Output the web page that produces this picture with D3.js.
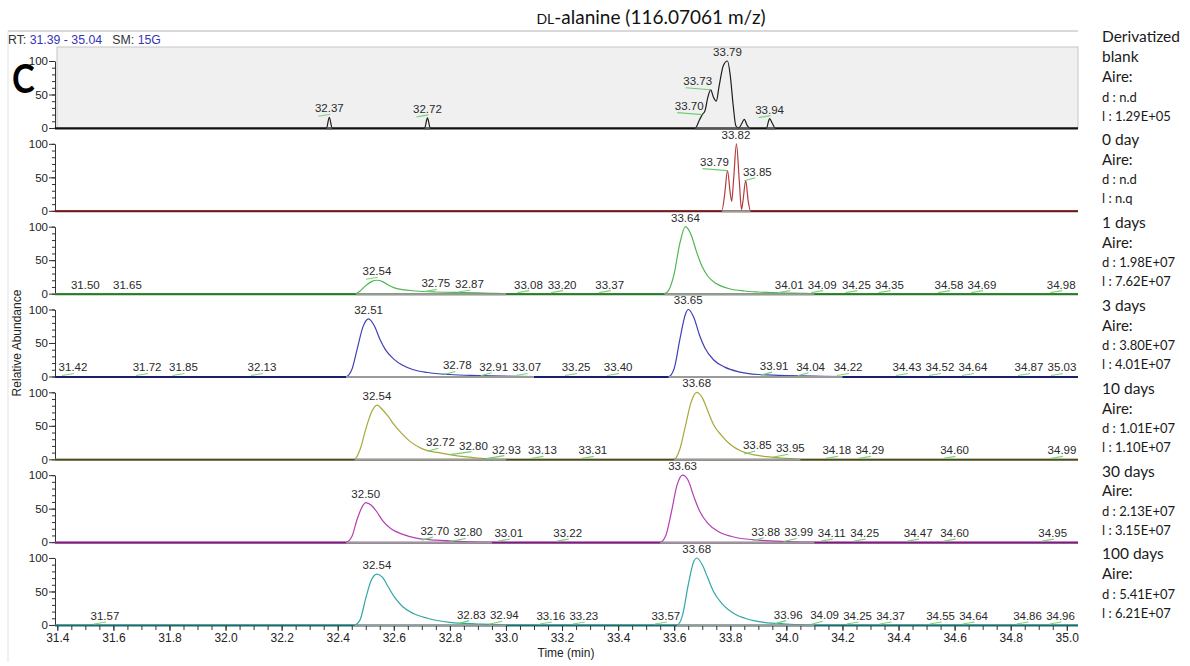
<!DOCTYPE html>
<html><head><meta charset="utf-8">
<script src="https://cdn.jsdelivr.net/npm/d3@7/dist/d3.min.js"></script>
<style>body{margin:0;background:#fff}svg{display:block}</style>
</head><body>
<svg id="c" width="1190" height="666"></svg>
<script>
// ---------- DATA ----------
const sampleNames = ["Derivatized blank","0 day","1 days","3 days","10 days","30 days","100 days"];
const areaD = ["n.d","n.d","1.98E+07","3.80E+07","1.01E+07","2.13E+07","5.41E+07"];
const areaL = ["1.29E+05","n.q","7.62E+07","4.01E+07","1.10E+07","3.15E+07","6.21E+07"];
const xTickLabels = [31.4,31.6,31.8,32.0,32.2,32.4,32.6,32.8,33.0,33.2,33.4,33.6,33.8,34.0,34.2,34.4,34.6,34.8,35.0];
const yTickLabels = [0,50,100];

// traces: [retention time (min), relative abundance (%)]
const traceBlank = [[31.39,0],[32.36,0],[32.37,16],[32.38,0],[32.71,0],[32.72,15],[32.73,0],
  [33.675,0],[33.69,12],[33.70,20],[33.71,26],[33.72,46],[33.73,57],[33.74,46],[33.75,40],
  [33.76,62],[33.775,93],[33.79,100],[33.80,78],[33.81,35],[33.82,3],[33.83,0],[33.84,6],
  [33.85,13],[33.86,4],[33.87,0],[33.93,0],[33.935,8],[33.94,14],[33.95,7],[33.96,0],[35.04,0]];
const trace0 = [[31.39,0],[33.77,0],[33.78,25],[33.79,60],[33.80,26],[33.805,14],[33.812,48],
  [33.822,100],[33.832,45],[33.84,2],[33.845,14],[33.855,45],[33.864,14],[33.872,0],[35.04,0]];
const trace1 = [[31.39,0],[32.465,0],[32.48,4],[32.50,12],[32.52,18],[32.54,20],[32.56,18],
  [32.58,13],[32.60,9],[32.63,6],[32.68,4],[32.75,2.5],[32.85,1.5],[32.95,0.5],[33.0,0],
  [33.565,0],[33.58,5],[33.60,30],[33.62,75],[33.64,100],[33.66,88],[33.68,62],[33.70,40],
  [33.72,26],[33.75,15],[33.80,7],[33.85,4],[33.90,2.5],[33.95,1.5],[34.0,1],[34.05,0.5],[34.1,0],[35.04,0]];
const trace3 = [[31.39,0],[32.43,0],[32.45,10],[32.47,42],[32.49,74],[32.51,86],[32.53,76],
  [32.55,56],[32.57,40],[32.60,26],[32.63,17],[32.67,10],[32.72,6],[32.80,3],[32.90,1.5],
  [33.0,0.5],[33.1,0],[33.58,0],[33.60,12],[33.62,55],[33.64,93],[33.65,100],[33.67,88],
  [33.69,62],[33.71,42],[33.74,25],[33.78,14],[33.83,7],[33.90,3],[34.0,1.5],[34.1,0.5],[34.2,0],[35.04,0]];
const trace10 = [[31.39,0],[32.46,0],[32.48,15],[32.50,45],[32.52,70],[32.54,81],[32.56,74],
  [32.58,64],[32.60,52],[32.63,38],[32.66,26],[32.70,16],[32.72,13],[32.76,10],[32.80,7],
  [32.85,4],[32.90,2],[32.95,0.5],[33.0,0],[33.60,0],[33.62,15],[33.64,50],[33.66,85],
  [33.68,100],[33.70,92],[33.72,72],[33.74,52],[33.77,35],[33.80,22],[33.84,12],[33.88,7],
  [33.93,4],[34.0,1.5],[34.05,0],[35.04,0]];
const trace30 = [[31.39,0],[32.43,0],[32.45,8],[32.47,35],[32.49,55],[32.50,59],[32.52,55],
  [32.54,45],[32.56,32],[32.59,20],[32.63,12],[32.68,6],[32.75,3],[32.85,1],[32.95,0],
  [33.55,0],[33.57,10],[33.59,45],[33.61,85],[33.63,100],[33.65,92],[33.67,68],[33.69,47],
  [33.72,28],[33.76,15],[33.82,7],[33.90,3],[34.0,1],[34.1,0],[35.04,0]];
const trace100 = [[31.39,0],[32.46,0],[32.48,8],[32.50,40],[32.52,67],[32.54,76],[32.56,71],
  [32.58,57],[32.60,43],[32.63,28],[32.67,17],[32.72,10],[32.80,4],[32.90,1.5],[33.0,0],
  [33.61,0],[33.63,15],[33.65,60],[33.67,95],[33.68,100],[33.70,90],[33.72,70],[33.74,50],
  [33.77,32],[33.81,18],[33.86,9],[33.92,4],[34.0,1.5],[34.1,0],[35.04,0]];

// peak labels: [retention time, abundance at the label]
const peaksBlank = [[32.37,16],[32.72,15],[33.70,20],[33.73,57],[33.79,100],[33.94,14]];
const peaks0 = [[33.79,60],[33.82,100],[33.85,45]];
const peaks1 = [[31.50,0],[31.65,0],[32.54,20],[32.75,2],[32.87,1],[33.08,0],[33.20,0],[33.37,0],
  [33.64,100],[34.01,0],[34.09,0],[34.25,0],[34.35,0],[34.58,0],[34.69,0],[34.98,0]];
const peaks3 = [[31.42,0],[31.72,0],[31.85,0],[32.13,0],[32.51,86],[32.78,3],[32.91,1],[33.07,0],
  [33.25,0],[33.40,0],[33.65,100],[33.91,2],[34.04,1],[34.22,0],[34.43,0],[34.52,0],[34.64,0],
  [34.87,0],[35.03,0]];
const peaks10 = [[32.54,81],[32.72,12],[32.80,7],[32.93,1],[33.13,0],[33.31,0],[33.68,100],
  [33.85,8],[33.95,3],[34.18,0],[34.29,0],[34.60,0],[34.99,0]];
const peaks30 = [[32.50,59],[32.70,3],[32.80,1],[33.01,0],[33.22,0],[33.63,100],[33.88,2],
  [33.99,1],[34.11,0],[34.25,0],[34.47,0],[34.60,0],[34.95,0]];
const peaks100 = [[31.57,0],[32.54,76],[32.83,2],[32.94,1],[33.16,0],[33.23,0],[33.57,0],
  [33.68,100],[33.96,2],[34.09,1],[34.25,0],[34.37,0],[34.55,0],[34.64,0],[34.86,0],[34.96,0]];

const traces = [traceBlank, trace0, trace1, trace3, trace10, trace30, trace100];
const peakSets = [peaksBlank, peaks0, peaks1, peaks3, peaks10, peaks30, peaks100];
const lineColors = ["#1e1e1e","#b23c3c","#52b552","#4040b8","#a8a83a","#b33fb3","#33a6a6"];
const baseColors = ["#111111","#6e1c1c","#2b7a2b","#1e1e6e","#4d4d22","#7a1f7a","#1f6a6a"];

// ---------- DRAW ----------
const svg = d3.select("#c");
const NUM = "'Liberation Sans', Arial, sans-serif";
const CAL = "Lato, 'Open Sans', sans-serif";
const x = d3.scaleLinear().domain([31.39, 35.04]).range([54.5, 1078]);
const firstZero = 128, panelStep = 82.83, panelH = 67, axisX = 55;

// frame lines
svg.append("line").attr("x1",8).attr("x2",1078).attr("y1",31).attr("y2",31).attr("stroke","#b4b4b4");
svg.append("line").attr("x1",8).attr("x2",8).attr("y1",31).attr("y2",662).attr("stroke","#e2e2e2");

// title
const t = svg.append("text").attr("x",651).attr("y",24).attr("text-anchor","middle")
  .attr("font-family",CAL).attr("font-size",19).attr("fill","#111");
t.append("tspan").attr("font-size",14).text("DL");
t.append("tspan").text("-alanine (116.07061 m/z)");

// RT line
const rt = svg.append("text").attr("x",8).attr("y",44).attr("font-family",NUM).attr("font-size",12.3)
  .style("white-space","pre");
rt.append("tspan").attr("fill","#333").text("RT: ");
rt.append("tspan").attr("fill","#3535b8").text("31.39 - 35.04");
rt.append("tspan").attr("fill","#333").text("   SM: ");
rt.append("tspan").attr("fill","#3535b8").text("15G");

const line = d3.line().x(d => x(d[0])).curve(d3.curveMonotoneX);
const fmt = d3.format(".2f");

traces.forEach((tr, i) => {
  const zero = firstZero + i * panelStep;
  const y = d3.scaleLinear().domain([0,100]).range([zero, zero - panelH]);
  const g = svg.append("g");

  if (i === 0) {
    g.append("rect").attr("x",57).attr("y",47).attr("width",1078-57).attr("height",zero-47)
      .attr("fill","#f0f0f0").attr("stroke","#c6c6c6");
  }

  // y axis
  const minor = g.append("g").attr("transform",`translate(${axisX},0)`)
    .call(d3.axisLeft(y).tickValues(d3.range(0,101,10)).tickSize(3).tickSizeOuter(0).tickFormat(""));
  minor.select(".domain").remove();
  minor.selectAll("line").attr("stroke","#333");
  const major = g.append("g").attr("transform",`translate(${axisX},0)`)
    .call(d3.axisLeft(y).tickValues(yTickLabels).tickSize(6).tickSizeOuter(0).tickPadding(1));
  major.select(".domain").attr("stroke","#333");
  major.selectAll("line").attr("stroke","#333");
  major.selectAll("text").attr("font-family",NUM).attr("font-size",11.5).attr("fill","#222");

  // trace
  g.append("path").datum(tr).attr("d", line.y(d => y(d[1])))
    .attr("fill","none").attr("stroke",lineColors[i]).attr("stroke-width",1.2);

  // baseline
  g.append("line").attr("x1",axisX).attr("x2",1078).attr("y1",zero+0.5).attr("y2",zero+0.5)
    .attr("stroke",baseColors[i]).attr("stroke-width",2);
  // lighter baseline under peaks (runs where the trace leaves zero)
  let runStart = null;
  tr.forEach((d, k) => {
    if (d[1] > 0 && runStart === null) runStart = tr[k-1][0];
    if (d[1] === 0 && runStart !== null) {
      g.append("line").attr("x1",x(runStart)).attr("x2",x(d[0])).attr("y1",zero+0.5).attr("y2",zero+0.5)
        .attr("stroke", i === 0 ? "#555" : "#9a9a9a").attr("stroke-width",2);
      runStart = null;
    }
  });

  // is the trace continuously above zero between two times? (label sits on a peak tail)
  const onTail = (a, b) => tr.filter(d => d[0] > a && d[0] < b).every(d => d[1] > 0);

  // peak labels
  const peaks = peakSets[i];
  const labels = peaks.map((p, k) => {
    let shift = 0;
    const prev = peaks[k-1], next = peaks[k+1];
    const bigBefore = peaks.some(q => q[1] >= 50 && p[0] > q[0] && p[0] - q[0] < 0.45 && onTail(q[0], p[0]));
    if (next && next[0] - p[0] < 0.07 && next[1] > p[1] && p[1] > 0) shift = -13;
    else if (prev && p[0] - prev[0] < 0.07 && prev[1] > p[1] && p[1] > 0) shift = 13;
    else if (p[1] > 0 && p[1] < 30 && bigBefore) shift = 13;
    return {rt:p[0], h:p[1], px:x(p[0]), py:y(p[1]), cx:x(p[0]) + shift, yb:y(p[1]) - 5, shift};
  });
  // resolve overlaps among the low labels
  const w = 30, gap = 3;
  const row = labels.filter(l => l.h < 30).sort((a,b) => a.cx - b.cx);
  row.forEach(l => { if (l.cx < axisX + w/2 + 3) l.cx = axisX + w/2 + 3; });
  for (let k = 1; k < row.length; k++) {
    if (Math.abs(row[k].yb - row[k-1].yb) < 12 && row[k].cx < row[k-1].cx + w + gap) row[k].cx = row[k-1].cx + w + gap;
  }
  for (let k = row.length - 1; k >= 0; k--) {
    const lim = k === row.length - 1 ? 1077 - w/2 : row[k+1].cx - w - gap;
    if (row[k].cx > lim) row[k].cx = lim;
  }
  labels.forEach(l => {
    if (l.shift !== 0) {
      if (l.shift < 0) {
        g.append("line").attr("x1", l.cx - 12).attr("x2", l.px).attr("y1", l.yb + 3).attr("y2", l.py)
          .attr("stroke","#6fcf6f").attr("stroke-width",1.1);
      } else {
        g.append("line").attr("x1", l.px).attr("x2", l.cx - 2).attr("y1", l.py).attr("y2", l.yb + 2)
          .attr("stroke","#6fcf6f").attr("stroke-width",1.1);
      }
    } else if (l.h < 30 && !(i === 2 && l.rt < 32)) {
      g.append("line").attr("x1", l.cx - 11).attr("x2", l.cx + 1).attr("y1", l.yb + 4).attr("y2", l.yb + 2)
        .attr("stroke","#7ed37e").attr("stroke-width",1.2);
    }
    g.append("text").attr("x", l.cx).attr("y", l.yb).attr("text-anchor","middle")
      .attr("font-family",NUM).attr("font-size",11.5).attr("fill","#2a2a2a").text(fmt(l.rt));
  });

  // right annotations
  const ax = 1102, top = zero - panelH;
  const block = [];
  if (i === 0) { block.push(["Derivatized",15.5,top-24]); block.push(["blank",15.5,top-4]); }
  else block.push([sampleNames[i],15.5,top-4]);
  const y0 = top - 4;
  block.push(["Aire:",15,y0+20]);
  block.push(["d : " + areaD[i],13,y0+40]);
  block.push(["l : " + areaL[i],13,y0+59]);
  block.forEach(b => {
    svg.append("text").attr("x",ax).attr("y",b[2]).attr("dy","0.35em")
      .attr("font-family",CAL).attr("font-size",b[1]).attr("fill","#1a1a1a").text(b[0]);
  });
});

// bottom x axis
const bottomZero = firstZero + 6 * panelStep;
const xm = svg.append("g").attr("transform",`translate(0,${bottomZero+1})`)
  .call(d3.axisBottom(x).tickValues(d3.range(0,73).map(k => 31.4 + k*0.05)).tickSize(4).tickFormat("").tickSizeOuter(0));
xm.select(".domain").remove();
xm.selectAll("line").attr("stroke","#333");
const xa = svg.append("g").attr("transform",`translate(0,${bottomZero+1})`)
  .call(d3.axisBottom(x).tickValues(xTickLabels).tickSize(5).tickPadding(3).tickFormat(d3.format(".1f")));
xa.select(".domain").remove();
xa.selectAll("line").attr("stroke","#333");
xa.selectAll("text").attr("font-family",NUM).attr("font-size",12).attr("fill","#222");

svg.append("text").attr("x",566).attr("y",657).attr("text-anchor","middle")
  .attr("font-family",NUM).attr("font-size",12).attr("fill","#222").text("Time (min)");
svg.append("text").attr("transform","translate(21,343) rotate(-90)").attr("text-anchor","middle")
  .attr("font-family",NUM).attr("font-size",12).attr("fill","#222").text("Relative Abundance");

// panel letter
svg.append("text").attr("transform","translate(12,93) scale(0.86,1)").attr("font-family",CAL)
  .attr("font-weight","bold").attr("font-size",40).attr("fill","#000").text("C");
</script>
</body></html>
